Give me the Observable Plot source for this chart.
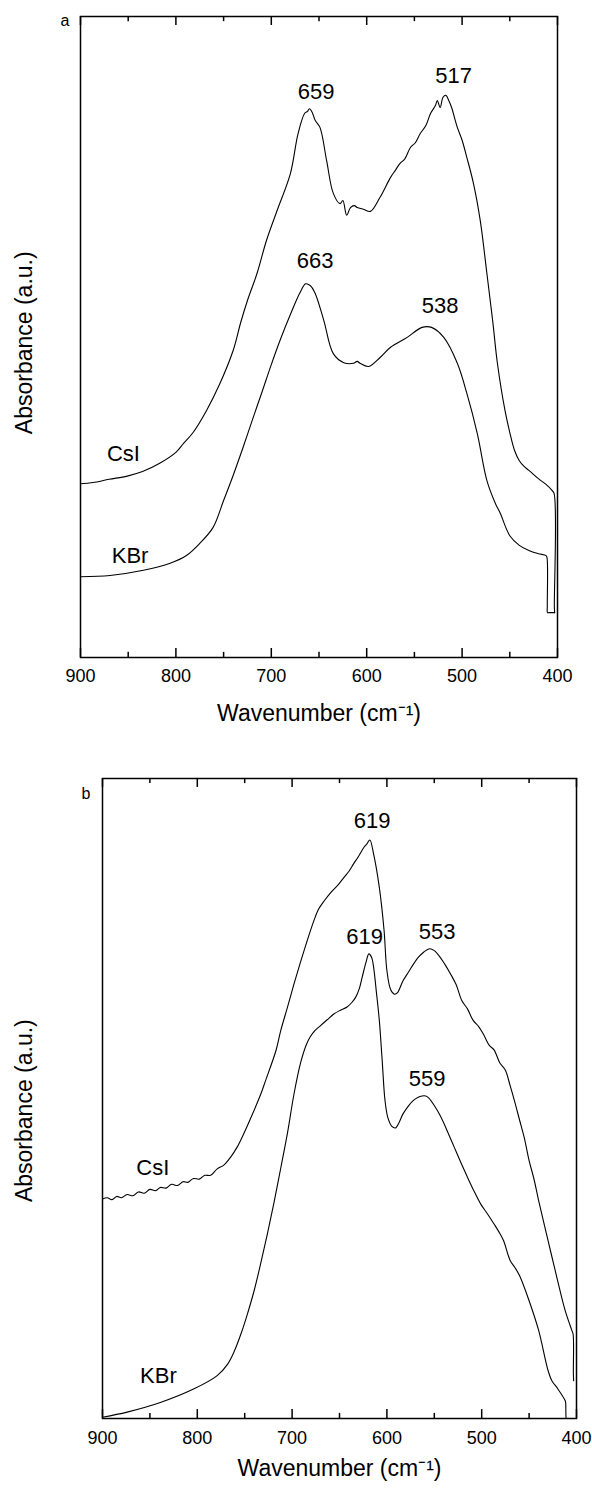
<!DOCTYPE html>
<html><head><meta charset="utf-8">
<script src="https://cdn.jsdelivr.net/npm/d3@7"></script>
<script src="https://cdn.jsdelivr.net/npm/@observablehq/plot@0.6"></script>
<style>
body{margin:0;background:#fff;}
#chart{width:592px;}
#chart svg{display:block;}
</style></head><body><div id="chart"></div>
<script>
// ---- Data (x: wavenumber in cm^-1, y: absorbance in arbitrary units 0-100) ----
const majorTicks = [900, 800, 700, 600, 500, 400];
const minorTicks = [850, 750, 650, 550, 450];

// Panel a
const aCsI = [[900,27.1],[887,27.3],[870,27.8],[851,28.3],[835,29.0],[817,30.3],[800,32.0],[792,33.4],[782,35.1],[768,38.5],[754,42.7],[740,47.9],[732,52.3],[725,55.7],[715,59.9],[705,65.1],[694,69.7],[680,75.5],[672,81.7],[665,84.9],[662,85.2],[660,85.6],[657,85.0],[654,83.8],[649,82.7],[642,77.5],[635,72.4],[628,70.8],[625,71.3],[621,69.0],[617,70.2],[613,70.5],[610,70.2],[603,69.9],[596,69.6],[586,71.8],[575,74.9],[570,76.0],[565,77.1],[560,77.8],[554,79.6],[549,80.3],[544,81.7],[538,83.0],[533,84.9],[528,86.1],[526,86.9],[523,85.8],[520,87.4],[517,87.7],[514,86.9],[511,85.8],[505,82.7],[500,80.7],[495,78.0],[488,73.9],[481,68.2],[474,59.9],[468,52.6],[463,45.9],[455,38.5],[450,35.1],[445,32.3],[440,30.7],[435,29.8],[430,29.2],[420,27.9],[412,27.0],[406,26.1],[403.6,25.6],[403.3,8.0],[403,7.0]];
const aKBr = [[900,12.6],[869,12.8],[834,13.6],[806,14.7],[789,15.9],[775,17.8],[761,20.3],[750,24.5],[740,28.4],[730,32.6],[720,37.0],[710,41.3],[700,45.7],[690,49.8],[680,53.5],[670,56.9],[664,58.3],[659,58.0],[654,56.8],[645,52.6],[635,47.4],[624,46.0],[614,45.9],[610,46.2],[607,45.9],[598,45.4],[586,46.8],[575,48.4],[558,49.9],[542,51.5],[532,51.5],[519,49.9],[505,45.9],[495,41.2],[484,34.9],[474,27.6],[465,24.0],[460,22.5],[450,19.0],[440,17.5],[430,16.7],[420,16.2],[412,15.9],[411,15.6],[410.7,8.0],[410.5,7.0],[409,7.0],[403,7.0]];
const aPeakText = ["659", "517", "663", "538"];
const aPeakWn = [653, 509, 654, 523];
const aPeakAbs = [88.2, 90.8, 61.8, 54.9];
const aSeriesText = ["CsI", "KBr"];
const aSeriesWn = [855, 848];
const aSeriesAbs = [31.8, 15.9];

// Panel b
const bCsI = [[900,34.3],[895,34.5],[890,34.2],[885,34.7],[880,34.5],[874,35.0],[868,34.8],[862,35.4],[856,35.2],[850,35.8],[844,35.6],[839,36.1],[833,36.0],[827,36.6],[821,36.4],[815,37.0],[810,36.9],[804,37.5],[798,37.4],[792,38.0],[786,38.0],[779,39.0],[772,39.6],[765,40.8],[758,42.4],[751,44.5],[742,47.5],[733,50.7],[728,52.8],[717,57.5],[712,60.6],[705,64.2],[698,67.9],[691,71.4],[684,74.7],[677,77.8],[672,79.6],[666,80.9],[659,82.2],[652,83.3],[645,84.6],[640,85.5],[635,86.7],[630,87.8],[624,89.3],[621,89.8],[618,90.4],[614,88.2],[608,83.0],[603,76.3],[600,70.0],[596,67.0],[592,66.3],[589,66.5],[583,68.4],[577,69.8],[572,71.0],[566,72.2],[561,72.9],[555,73.4],[550,73.1],[544,72.1],[539,71.0],[533,69.5],[527,67.8],[521,65.3],[515,64.0],[509,62.2],[503,61.2],[498,60.0],[492,58.3],[487,57.6],[481,55.6],[475,54.4],[470,52.0],[465,49.4],[460,46.6],[455,43.8],[450,40.3],[445,37.5],[440,34.1],[430,27.8],[420,21.6],[412,16.9],[405,13.8],[403.6,13.2],[403.3,7.0],[403,5.9]];
const bKBr = [[900,0.2],[874,1.0],[839,2.5],[804,4.6],[779,6.7],[768,8.5],[761,10.5],[754,13.2],[747,16.4],[740,20.0],[733,24.3],[726,28.9],[719,33.8],[712,39.1],[705,44.5],[698,50.7],[691,55.6],[685,58.4],[681,59.6],[676,60.6],[670,61.4],[663,62.3],[656,63.2],[649,63.8],[642,64.3],[637,65.0],[633,65.8],[629,67.2],[626,69.0],[622,71.3],[619,72.6],[616,72.0],[614,70.5],[611,66.5],[608,62.2],[605,56.0],[602,49.7],[599,47.0],[595,45.7],[591,45.4],[587,46.3],[583,47.6],[577,48.9],[572,49.7],[567,50.2],[563,50.4],[559,50.4],[556,50.1],[550,48.9],[543,47.1],[536,44.8],[529,42.4],[522,40.0],[515,37.7],[508,35.5],[501,33.5],[494,32.0],[487,30.4],[482,29.2],[477,27.8],[470,24.7],[465,23.6],[460,22.3],[450,18.4],[440,13.8],[430,7.5],[426,5.9],[420,4.7],[412,2.8],[411.4,2.4],[411.2,0.8],[411,0]];
const bPeakText = ["619", "619", "553", "559"];
const bPeakWn = [615.5, 623.6, 547, 557.5];
const bPeakAbs = [93.4, 75.2, 76.0, 53.1];
const bSeriesText = ["CsI", "KBr"];
const bSeriesWn = [847, 841];
const bSeriesAbs = [39.2, 6.7];

const xTitle = "Wavenumber (cm\u207B\u00B9)";
const yTitle = "Absorbance (a.u.)";

const FONT = "'Liberation Sans', Arial, Helvetica, sans-serif";

function toRows(pairs) { return pairs.map(([wn, abs]) => ({wn, abs})); }
function labelRows(t, w, a) { return t.map((text, i) => ({text, wn: w[i], abs: a[i]})); }

function panel(cfg) {
  const majLen = 1.4, minLen = 0.8;
  return Plot.plot({
    width: 592,
    height: cfg.height,
    marginTop: cfg.mt, marginBottom: cfg.mb, marginLeft: cfg.ml, marginRight: cfg.mr,
    style: {fontFamily: FONT, background: "white", color: "black", overflow: "visible"},
    x: {domain: [900, 400]},
    y: {domain: [0, 100], axis: null},
    marks: [
      Plot.ruleX(majorTicks, {x: d => d, y1: 0, y2: majLen, stroke: "black", strokeWidth: 1.5}),
      Plot.ruleX(minorTicks, {x: d => d, y1: 0, y2: minLen, stroke: "black", strokeWidth: 1.5}),
      Plot.ruleX(majorTicks, {x: d => d, y1: 100 - majLen, y2: 100, stroke: "black", strokeWidth: 1.5}),
      Plot.ruleX(minorTicks, {x: d => d, y1: 100 - minLen, y2: 100, stroke: "black", strokeWidth: 1.5}),
      Plot.frame({stroke: "black", strokeWidth: 1.5}),
      Plot.axisX(majorTicks, {tickSize: 0, tickPadding: cfg.tp, fontSize: 18, label: null, tickFormat: d => String(d)}),
      Plot.line(toRows(cfg.csi), {x: "wn", y: "abs", stroke: "black", strokeWidth: 1.1, curve: "catmull-rom"}),
      Plot.line(toRows(cfg.kbr), {x: "wn", y: "abs", stroke: "black", strokeWidth: 1.1, curve: "catmull-rom"}),
      Plot.text(labelRows(cfg.peakT, cfg.peakW, cfg.peakA), {x: "wn", y: "abs", text: "text", fontSize: 22}),
      Plot.text(labelRows(cfg.serT, cfg.serW, cfg.serA), {x: "wn", y: "abs", text: "text", fontSize: 22}),
      Plot.text([xTitle], {frameAnchor: "bottom", dy: cfg.xtDy, fontSize: 23}),
      Plot.text([{t: yTitle, wn: cfg.ytWn, abs: cfg.ytAbs}], {x: "wn", y: "abs", text: "t", rotate: -90, fontSize: 23}),
      Plot.text([cfg.tag], {frameAnchor: "top-left", dx: cfg.tagDx, dy: cfg.tagDy, fontSize: 16})
    ]
  });
}

const chart = document.getElementById("chart");
chart.appendChild(panel({
  height: 740, mt: 16, mb: 83, ml: 80, mr: 35, tp: 12,
  csi: aCsI, kbr: aKBr,
  peakT: aPeakText, peakW: aPeakWn, peakA: aPeakAbs,
  serT: aSeriesText, serW: aSeriesWn, serA: aSeriesAbs,
  xtDy: 63, ytWn: 959, ytAbs: 49.1, tag: "a", tagDx: -20, tagDy: -2
}));
chart.appendChild(panel({
  height: 759, mt: 38, mb: 81, ml: 102, mr: 16, tp: 13,
  csi: bCsI, kbr: bKBr,
  peakT: bPeakText, peakW: bPeakWn, peakA: bPeakAbs,
  serT: bSeriesText, serW: bSeriesWn, serA: bSeriesAbs,
  xtDy: 57, ytWn: 982, ytAbs: 48.1, tag: "b", tagDx: -21, tagDy: 9
}));
</script></body></html>
